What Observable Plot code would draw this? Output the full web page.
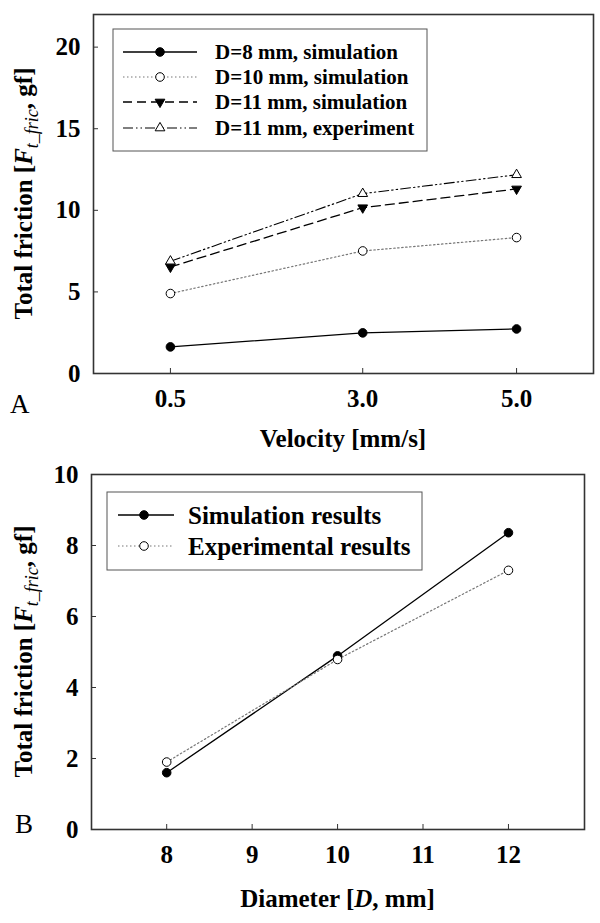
<!DOCTYPE html>
<html>
<head>
<meta charset="utf-8">
<script src="https://cdn.jsdelivr.net/npm/d3@7"></script>
<script src="https://cdn.jsdelivr.net/npm/@observablehq/plot@0.6"></script>
<style>
  html, body { margin: 0; padding: 0; background: #fff; }
  svg { display: block; }
</style>
</head>
<body>
<div id="chart"></div>
<script>
// ---------- Data ----------
const velocity = [0.5, 3.0, 5.0];
const d8Sim = [1.63, 2.49, 2.73];
const d10Sim = [4.90, 7.51, 8.33];
const d11Sim = [6.53, 10.16, 11.31];
const d11Exp = [6.88, 11.02, 12.18];
const seriesNamesA = ["D=8 mm, simulation", "D=10 mm, simulation", "D=11 mm, simulation", "D=11 mm, experiment"];
const velocityTicks = [0.5, 3.0, 5.0];
const frictionTicksA = [0, 5, 10, 15, 20];

const diameter = [8, 10, 12];
const simResults = [1.60, 4.89, 8.36];
const expResults = [1.90, 4.79, 7.30];
const seriesNamesB = ["Simulation results", "Experimental results"];
const diameterTicks = [8, 9, 10, 11, 12];
const frictionTicksB = [0, 2, 4, 6, 8, 10];

const xTitleA = "Velocity [mm/s]";
const xTitleBParts = ["Diameter [", "D", ", mm]"];
const yTitleParts = ["Total friction [", "F", "t_fric", ", gf]"];
const panelLabels = ["A", "B"];

// ---------- Styles ----------
const FONT = "'Liberation Serif', 'Times New Roman', serif";
const triangleDown = {
  draw(context, size) {
    const y = -Math.sqrt(size / (Math.sqrt(3) * 3));
    context.moveTo(0, -y * 2);
    context.lineTo(-Math.sqrt(3) * y, y);
    context.lineTo(Math.sqrt(3) * y, y);
    context.closePath();
  }
};
const stylesA = [
  {stroke: "#000", dash: null, width: 1.3, symbol: "circle", fill: "#000", r: 4.3},
  {stroke: "#777", dash: "1.5,2.5", width: 1.2, symbol: "circle", fill: "#fff", r: 4.3},
  {stroke: "#000", dash: "9,5", width: 1.3, symbol: triangleDown, fill: "#000", r: 3.6},
  {stroke: "#000", dash: "10,3,1.5,3,1.5,3", width: 1.1, symbol: "triangle", fill: "#fff", r: 3.6}
];
const stylesB = [
  {stroke: "#000", dash: null, width: 1.3, symbol: "circle", fill: "#000", r: 4.3},
  {stroke: "#777", dash: "1.5,2.5", width: 1.2, symbol: "circle", fill: "#fff", r: 4.3}
];

function seriesMarks(xs, valuesList, styles) {
  const marks = [];
  valuesList.forEach((vals, i) => {
    const s = styles[i];
    const rows = xs.map((x, j) => ({x, y: vals[j]}));
    marks.push(Plot.line(rows, {x: "x", y: "y", stroke: s.stroke, strokeWidth: s.width, strokeDasharray: s.dash}));
  });
  valuesList.forEach((vals, i) => {
    const s = styles[i];
    const rows = xs.map((x, j) => ({x, y: vals[j]}));
    marks.push(Plot.dot(rows, {x: "x", y: "y", symbol: s.symbol, r: s.r, fill: s.fill, stroke: "#000", strokeWidth: 1}));
  });
  return marks;
}

function addYTitle(svg, cx, cy) {
  const t = d3.select(svg).append("text")
    .attr("transform", `translate(${cx},${cy}) rotate(-90)`)
    .attr("text-anchor", "middle")
    .attr("fill", "#000")
    .style("font-family", FONT).style("font-size", "25px").style("font-weight", "bold");
  t.append("tspan").text(yTitleParts[0]);
  t.append("tspan").style("font-style", "italic").text(yTitleParts[1]);
  t.append("tspan").attr("dy", 6).style("font-style", "italic").style("font-weight", "normal").style("font-size", "18px").text(yTitleParts[2]);
  t.append("tspan").attr("dy", -6).text(yTitleParts[3]);
}

function addLegend(svg, box, rows, lineX, markerX, textX, fontSize, names, styles) {
  const g = d3.select(svg).append("g");
  g.append("rect").attr("x", box.x).attr("y", box.y).attr("width", box.w).attr("height", box.h)
    .attr("fill", "#fff").attr("stroke", "#555").attr("stroke-width", 1);
  names.forEach((name, i) => {
    const s = styles[i];
    const y = rows[i];
    g.append("line").attr("x1", lineX[0]).attr("x2", lineX[1]).attr("y1", y).attr("y2", y)
      .attr("stroke", s.stroke).attr("stroke-width", s.width).attr("stroke-dasharray", s.dash);
    const type = typeof s.symbol === "string" ? (s.symbol === "circle" ? d3.symbolCircle : d3.symbolTriangle) : s.symbol;
    g.append("path").attr("d", d3.symbol(type, Math.PI * s.r * s.r)())
      .attr("transform", `translate(${markerX},${y})`)
      .attr("fill", s.fill).attr("stroke", "#000").attr("stroke-width", 1);
    g.append("text").attr("x", textX).attr("y", y).attr("dy", "0.35em")
      .attr("text-anchor", "start")
      .attr("fill", "#000")
      .style("font-family", FONT).style("font-size", fontSize + "px").style("font-weight", "bold")
      .text(name);
  });
}

const baseStyle = {fontFamily: FONT, fontSize: "25px", fontWeight: "bold", color: "#000", background: "#fff", overflow: "visible"};

// ---------- Panel A ----------
const chartA = Plot.plot({
  width: 600, height: 460,
  marginLeft: 93, marginRight: 7, marginTop: 14, marginBottom: 87,
  style: baseStyle,
  x: {domain: [-0.5, 6.0]},
  y: {domain: [0, 22]},
  marks: [
    Plot.frame({stroke: "#333", strokeWidth: 1.6}),
    Plot.axisX({ticks: velocityTicks, tickFormat: d => d.toFixed(1), tickSize: -5, tickPadding: 21, label: null, stroke: "#333", fill: "#000"}),
    Plot.axisY({ticks: frictionTicksA, tickSize: -5, tickPadding: 18, label: null, stroke: "#333", fill: "#000"}),
    ...seriesMarks(velocity, [d8Sim, d10Sim, d11Sim, d11Exp], stylesA)
  ]
});
addLegend(chartA, {x: 113, y: 29, w: 314, h: 122}, [52, 77, 102, 128], [123, 197], 160, 215, 21, seriesNamesA, stylesA);
addYTitle(chartA, 32, 193.5);
d3.select(chartA).append("text").attr("x", 343).attr("y", 447).attr("text-anchor", "middle").attr("fill", "#000")
  .style("font-family", FONT).style("font-size", "25px").style("font-weight", "bold").text(xTitleA);
d3.select(chartA).append("text").attr("x", 10).attr("y", 413).attr("text-anchor", "start").attr("fill", "#000")
  .style("font-family", FONT).style("font-size", "27px").style("font-weight", "normal").text(panelLabels[0]);

// ---------- Panel B ----------
const chartB = Plot.plot({
  width: 600, height: 463,
  marginLeft: 91, marginRight: 16, marginTop: 14, marginBottom: 94,
  style: baseStyle,
  x: {domain: [7.12, 12.89]},
  y: {domain: [0, 10]},
  marks: [
    Plot.frame({stroke: "#333", strokeWidth: 1.6}),
    Plot.axisX({ticks: diameterTicks, tickFormat: d => String(d), tickSize: -5, tickPadding: 21, label: null, stroke: "#333", fill: "#000"}),
    Plot.axisY({ticks: frictionTicksB, tickSize: -5, tickPadding: 18, label: null, stroke: "#333", fill: "#000"}),
    ...seriesMarks(diameter, [simResults, expResults], stylesB)
  ]
});
addLegend(chartB, {x: 107, y: 32, w: 315, h: 78}, [55, 86], [118, 174], 144, 188, 25, seriesNamesB, stylesB);
addYTitle(chartB, 32, 191.5);
{
  const t = d3.select(chartB).append("text").attr("x", 337.5).attr("y", 447).attr("text-anchor", "middle").attr("fill", "#000")
    .style("font-family", FONT).style("font-size", "25px").style("font-weight", "bold");
  t.append("tspan").text(xTitleBParts[0]);
  t.append("tspan").style("font-style", "italic").text(xTitleBParts[1]);
  t.append("tspan").text(xTitleBParts[2]);
}
d3.select(chartB).append("text").attr("x", 15).attr("y", 373).attr("text-anchor", "start").attr("fill", "#000")
  .style("font-family", FONT).style("font-size", "27px").style("font-weight", "normal").text(panelLabels[1]);

document.getElementById("chart").append(chartA, chartB);
</script>
</body>
</html>
